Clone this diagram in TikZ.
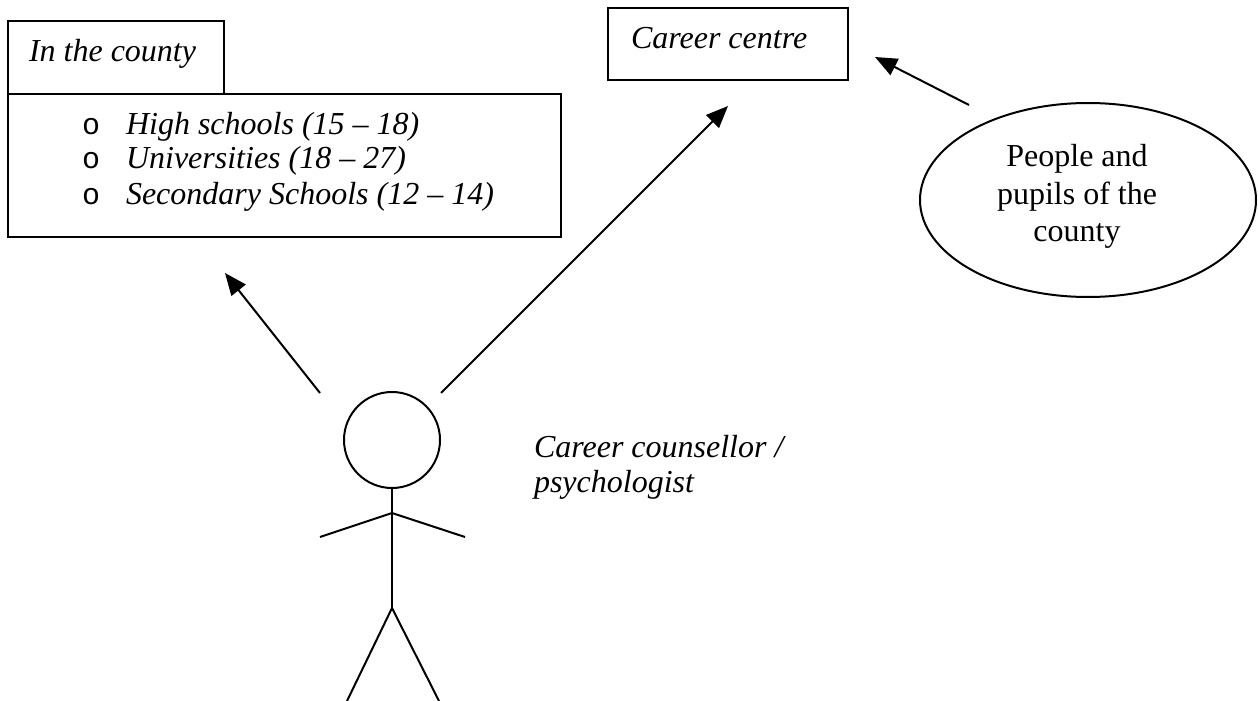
\documentclass[tikz,border=0pt]{standalone}
\usepackage{fontspec}
\setmainfont{Liberation Serif}
\setmonofont{Liberation Mono}
\usetikzlibrary{arrows.meta,shapes.geometric}
\begin{document}
\begin{tikzpicture}[x=0.5pt,y=-0.5pt,
  line width=1pt,
  boxstyle/.style={draw,rectangle,inner sep=0pt,line width=1pt},
  txt/.style={inner sep=0pt,anchor=base west,font=\fontsize{16pt}{18pt}\selectfont\itshape},
  rtxt/.style={inner sep=0pt,anchor=base,font=\fontsize{16pt}{18pt}\selectfont},
  bul/.style={inner sep=0pt,anchor=base west,font=\fontsize{15pt}{18pt}\selectfont\ttfamily},
  arr/.style={-{Triangle[length=11pt,width=9pt]},line width=1pt},
  limb/.style={line width=1pt}]
\useasboundingbox (0,0) rectangle (1258,701);
% tab box
\node[boxstyle,minimum width=108pt,minimum height=36.5pt] (tab) at (116,57.5) {};
\node[txt] (tabtxt) at (28,62) {In the county};
% main box
\node[boxstyle,minimum width=276.5pt,minimum height=71.5pt] (main) at (284.5,165.5) {};
\node[bul] (b1) at (81,134) {o};
\node[bul] (b2) at (81,169) {o};
\node[bul] (b3) at (81,204) {o};
\node[txt] (l1) at (125,134) {High schools (15 – 18)};
\node[txt] (l2) at (125,169) {Universities (18 – 27)};
\node[txt] (l3) at (125,204) {Secondary Schools (12 – 14)};
% career centre
\node[boxstyle,minimum width=120pt,minimum height=36pt] (cc) at (728,44) {};
\node[txt] (cctxt) at (630,49) {Career centre};
% ellipse
\node[draw,ellipse,line width=1pt,minimum width=168pt,minimum height=97pt,inner sep=0pt] (people) at (1088,200) {};
\node[rtxt] (p1) at (1077,167) {People and};
\node[rtxt] (p2) at (1077,204) {pupils of the};
\node[rtxt] (p3) at (1077,241) {county};
% stick figure
\node[draw,circle,line width=1pt,minimum size=48pt,inner sep=0pt] (head) at (392,440) {};
\coordinate (shoulder) at (392,513);
\coordinate (hip) at (392,608);
\coordinate (lhand) at (320,537);
\coordinate (rhand) at (465,537);
\coordinate (lfoot) at (347,701);
\coordinate (rfoot) at (439,701);
\draw[limb] (head.south) -- (hip);
\draw[limb] (lhand) -- (shoulder) -- (rhand);
\draw[limb] (lfoot) -- (hip) -- (rfoot);
\node[txt] (couns) at (533,457) {Career counsellor /};
\node[txt] (couns2) at (533,492) {psychologist};
% arrows
\coordinate (a1s) at (320,393);
\coordinate (a1e) at (225,273);
\coordinate (a2s) at (441,393);
\coordinate (a2e) at (728,106);
\coordinate (a3s) at (969,105);
\coordinate (a3e) at (875,57);
\draw[arr] (a1s) -- (a1e);
\draw[arr] (a2s) -- (a2e);
\draw[arr] (a3s) -- (a3e);
\end{tikzpicture}
\end{document}
